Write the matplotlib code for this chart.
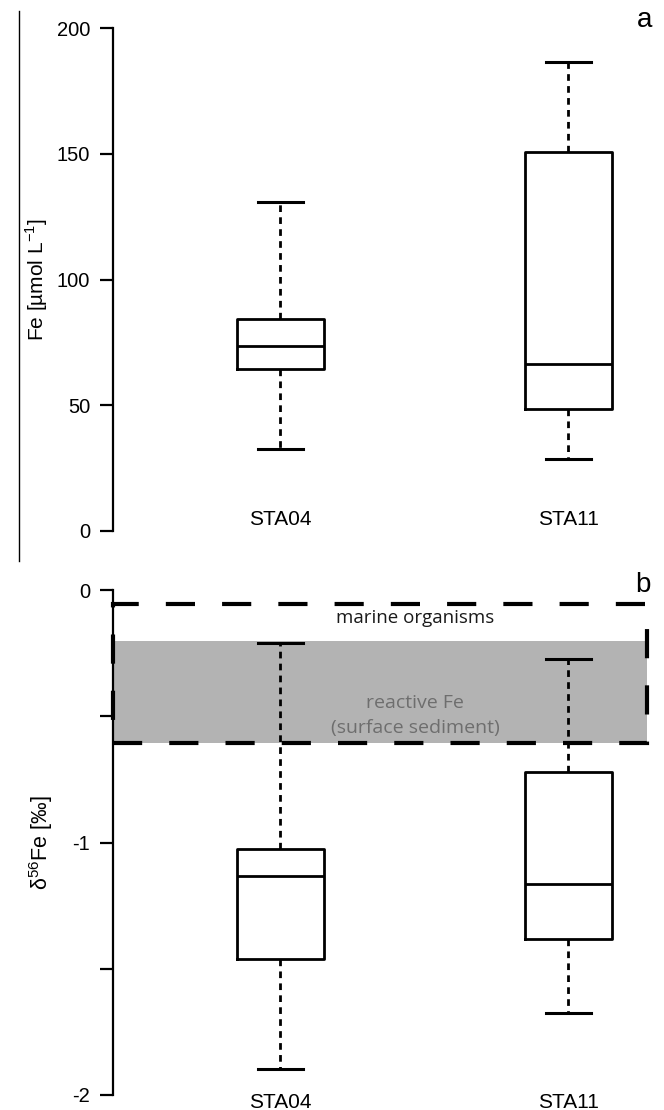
import matplotlib
matplotlib.use('Agg')
import matplotlib.pyplot as plt
from matplotlib.patches import Rectangle
from matplotlib.lines import Line2D

plt.rcParams['font.family'] = ['Liberation Sans', 'DejaVu Sans']
plt.rcParams['axes.unicode_minus'] = False

# Data
stations = ['STA04', 'STA11']
positions = [1, 2]

# Fe [umol/L]: lower whisker, Q1, median, Q3, upper whisker
fe_whislo = [32.6, 28.6]
fe_q1 = [64.4, 48.5]
fe_med = [73.6, 66.4]
fe_q3 = [84.3, 150.7]
fe_whishi = [130.8, 186.5]

# d56Fe [permil]
d56_whislo = [-1.897, -1.675]
d56_q1 = [-1.461, -1.382]
d56_med = [-1.133, -1.164]
d56_q3 = [-1.026, -0.72]
d56_whishi = [-0.21, -0.273]

# reference fields in panel b
marine_range = (-0.606, -0.055)
reactive_range = (-0.606, -0.2)

W, H = 664, 1110
XLIM = (0.42, 2.333)
FIELD_RIGHT = 2.274
NOTE_FONT = ['Open Sans', 'DejaVu Sans']


def make_stats(lo, q1, med, q3, hi):
    return [dict(whislo=a, q1=b, med=c, q3=d, whishi=e, fliers=[])
            for a, b, c, d, e in zip(lo, q1, med, q3, hi)]


def px_axes(fig, left, top, right, bottom):
    return fig.add_axes([left / W, 1 - bottom / H, (right - left) / W, (bottom - top) / H])


def style_axes(ax, lo, hi):
    for s in ['top', 'right', 'bottom']:
        ax.spines[s].set_visible(False)
    ax.spines['left'].set_linewidth(1.6)
    ax.spines['left'].set_bounds(lo, hi)
    ax.set_xticks([])
    ax.tick_params(axis='y', length=9.5, width=1.6, pad=7, labelsize=14.5)
    ax.set_xlim(*XLIM)
    ax.patch.set_alpha(0)


def draw_boxes(ax, stats):
    ax.bxp(stats, positions=positions, widths=0.302, capwidths=0.156,
           showfliers=False, manage_ticks=False,
           boxprops=dict(color='black', linewidth=2.0),
           medianprops=dict(color='black', linewidth=2.0),
           whiskerprops=dict(color='black', linewidth=2.0, linestyle=(0, (2.4, 1.9))),
           capprops=dict(color='black', linewidth=2.2),
           zorder=4)


fig = plt.figure(figsize=(W / 100, H / 100), dpi=100)

# thin rule at the far left of the top panel
fig.add_artist(Line2D([19 / W, 19 / W], [1 - 11 / H, 1 - 561 / H], color='black', linewidth=1.0))

# Panel a
ax1 = px_axes(fig, 113, 7.88, 664, 551.12)
draw_boxes(ax1, make_stats(fe_whislo, fe_q1, fe_med, fe_q3, fe_whishi))
ax1.set_ylim(-8, 208)
style_axes(ax1, 0, 200)
ax1.set_yticks([0, 50, 100, 150, 200])
ax1.set_ylabel(r'Fe [µmol L$^{\mathregular{-1}}$]', fontsize=15)
ax1.yaxis.set_label_coords(-(113 - 50) / 551, 0.5)
for p, s in zip(positions, stations):
    ax1.text(p, 4.4, s, ha='center', va='center', fontsize=15)
fig.text(645 / W, 1 - 20 / H, 'a', ha='center', va='center', fontsize=20)

# Panel b
ax2 = px_axes(fig, 113, 579.9, 664, 1105.1)
ax2.add_patch(Rectangle((XLIM[0], reactive_range[0]), FIELD_RIGHT - XLIM[0],
                        reactive_range[1] - reactive_range[0],
                        facecolor='#b3b3b3', edgecolor='none', zorder=1))
ax2.add_patch(Rectangle((XLIM[0], marine_range[0]), FIELD_RIGHT - XLIM[0],
                        marine_range[1] - marine_range[0],
                        fill=False, edgecolor='black', linewidth=3.0,
                        linestyle=(0, (7, 6.5)), zorder=3, clip_on=False))
draw_boxes(ax2, make_stats(d56_whislo, d56_q1, d56_med, d56_q3, d56_whishi))
ax2.set_ylim(-2.04, 0.04)
style_axes(ax2, -2, 0)
ax2.set_yticks([0, -0.5, -1, -1.5, -2])
ax2.set_yticklabels(['0', '', '-1', '', '-2'])
ax2.set_ylabel(r'$\mathregular{\delta^{56}}$Fe [‰]', fontsize=15.5)
ax2.yaxis.set_label_coords(-(113 - 55) / 551, 0.5)
for p, s in zip(positions, stations):
    ax2.text(p, -2.028, s, ha='center', va='center', fontsize=15)

ax2.text(1.47, -0.111, 'marine organisms', ha='center', va='center',
         fontsize=13.5, family=NOTE_FONT, color='#1a1a1a', zorder=5)
ax2.text(1.47, -0.448, 'reactive Fe', ha='center', va='center',
         fontsize=14, family=NOTE_FONT, color='#6e6e6e', zorder=5)
ax2.text(1.47, -0.547, '(surface sediment)', ha='center', va='center',
         fontsize=14, family=NOTE_FONT, color='#6e6e6e', zorder=5)
fig.text(643 / W, 1 - 585 / H, 'b', ha='center', va='center', fontsize=20)

fig.savefig('out.png', dpi=100)
